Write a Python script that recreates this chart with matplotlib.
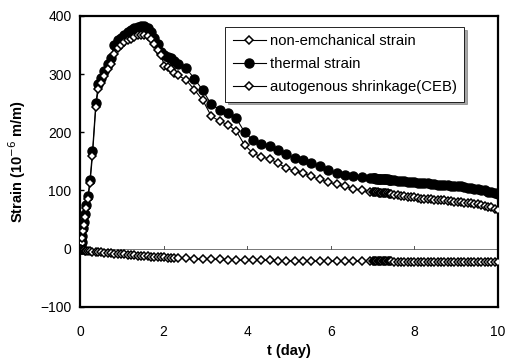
import matplotlib
matplotlib.use("Agg")
import matplotlib.pyplot as plt

plt.rcParams['font.family'] = ['Liberation Sans', 'DejaVu Sans']

# time (day)
t = [0.0, 0.02, 0.04, 0.06, 0.08, 0.1, 0.12, 0.15, 0.19, 0.24, 0.3, 0.38, 0.44, 0.5,
     0.58, 0.66, 0.74, 0.82, 0.9, 0.98, 1.06, 1.14, 1.22, 1.3, 1.38, 1.46, 1.54, 1.62,
     1.7, 1.78, 1.86, 1.94, 2.02, 2.1, 2.18, 2.26, 2.34,
     2.54, 2.74, 2.94, 3.14, 3.34, 3.54, 3.74, 3.94, 4.14, 4.34, 4.54, 4.74, 4.94,
     5.14, 5.34, 5.54, 5.74, 5.94, 6.14, 6.34, 6.54, 6.74, 6.94,
     7.0, 7.03, 7.06, 7.09, 7.12, 7.15, 7.18, 7.21, 7.24, 7.27, 7.3, 7.33, 7.36, 7.39, 7.42, 7.45,
     7.52, 7.6, 7.68, 7.76, 7.84, 7.92, 8.0, 8.08, 8.16, 8.24, 8.32, 8.4, 8.48, 8.56,
     8.64, 8.72, 8.8, 8.88, 8.96, 9.04, 9.12, 9.2, 9.28, 9.36, 9.44, 9.52, 9.6, 9.68,
     9.76, 9.84, 9.92, 10.0]

thermal = [0, 5, 12, 22, 35, 45, 60, 75, 90, 118, 167, 250, 283, 294,
           305, 318, 328, 350, 358, 362, 368, 372, 375, 379, 381, 382, 382, 380,
           373, 362, 352, 338, 332, 330, 328, 322, 318,
           310, 292, 272, 248, 239, 233, 224, 200, 186, 180, 176, 170, 162,
           156, 152, 147, 142, 135, 130, 127, 125, 123, 121,
           121, 121, 121, 120, 120, 120, 120, 120, 119, 119, 119, 119, 119, 118, 118, 118,
           118, 117, 116, 116, 115, 114, 114, 113, 113, 112, 112, 111, 111, 110,
           110, 109, 109, 108, 108, 107, 107, 106, 105, 104, 103, 102, 101, 100,
           98, 97, 96, 94]

nonmech = [0, 3, 10, 18, 30, 40, 55, 70, 85, 112, 160, 243, 275, 285,
           296, 308, 318, 335, 345, 350, 355, 358, 361, 364, 367, 368, 368, 366,
           360, 352, 342, 332, 314, 312, 308, 302, 298,
           290, 273, 255, 228, 219, 213, 202, 178, 164, 158, 154, 147, 138,
           133, 130, 124, 119, 114, 111, 107, 103, 100, 98,
           98, 98, 97, 97, 97, 96, 96, 96, 96, 95, 95, 95, 95, 94, 94, 94,
           93, 92, 91, 90, 89, 88, 88, 87, 86, 86, 85, 85, 84, 84,
           83, 83, 82, 82, 81, 80, 80, 79, 78, 78, 77, 76, 75, 74,
           72, 71, 69, 67]

autog = [0, -1, -1.5, -2, -2.5, -3, -3.3, -3.7, -4, -4.5, -5, -5.5, -6, -6.5,
         -7, -7.5, -8, -8.5, -9, -9.5, -10, -10.5, -11, -11.5, -12, -12.5, -13, -13.3,
         -13.6, -14, -14.3, -14.6, -15, -15.3, -15.6, -15.9, -16.2,
         -16.8, -17.3, -17.8, -18.2, -18.6, -19, -19.3, -19.6, -19.9, -20.1, -20.3, -20.5, -20.7,
         -20.9, -21, -21.2, -21.3, -21.4, -21.5, -21.6, -21.7, -21.8, -21.9,
         -22, -22, -22, -22, -22, -22, -22, -22, -22, -22, -22, -22, -22, -22, -22, -22,
         -22.1, -22.1, -22.2, -22.2, -22.2, -22.3, -22.3, -22.3, -22.4, -22.4, -22.4, -22.5, -22.5, -22.5,
         -22.6, -22.6, -22.6, -22.7, -22.7, -22.7, -22.8, -22.8, -22.8, -22.9, -22.9, -22.9, -23, -23,
         -23, -23, -23, -23]

labels = ["non-emchanical strain", "thermal strain", "autogenous shrinkage(CEB)"]
xticks = [0, 2, 4, 6, 8, 10]
yticks = [-100, 0, 100, 200, 300, 400]

fig = plt.figure(figsize=(5.06, 3.61), dpi=100)
ax = fig.add_axes([0.158, 0.150, 0.826, 0.806])

# zero reference line with small ticks
ax.axhline(0, color='#777777', lw=0.7, zorder=1)
for xv in xticks[1:-1]:
    ax.plot([xv, xv], [0, 4], color='#555555', lw=0.7, zorder=1)

ax.plot(t, nonmech, color='black', lw=0.8, marker='D', ms=4.2, mfc='white',
        mec='black', mew=1.1, zorder=3, label=labels[0])
ax.plot(t, thermal, color='black', lw=0.8, marker='o', ms=6.5, mfc='black',
        mec='black', zorder=2, label=labels[1])
ax.plot(t, autog, color='black', lw=0.8, marker='D', ms=4.2, mfc='white',
        mec='black', mew=1.1, zorder=3, label=labels[2])

ax.set_xlim(0, 10)
ax.set_ylim(-100, 400)
ax.set_xticks(xticks)
ax.set_yticks(yticks)
ax.tick_params(direction='in', length=3, width=1, labelsize=10)
ax.tick_params(axis='x', length=0, pad=13)
ax.tick_params(axis='y', pad=6)
for s in ax.spines.values():
    s.set_linewidth(1.6)

ax.set_xlabel("t (day)", fontsize=10.5, fontweight='bold', labelpad=4)
ax.set_ylabel("Strain (10$^{-6}$ m/m)", fontsize=10.5, fontweight='bold', labelpad=9)

leg = ax.legend(loc='upper left', bbox_to_anchor=(0.348, 0.962), borderaxespad=0,
                fontsize=10.7, frameon=True, fancybox=False, shadow=True, edgecolor='black',
                handlelength=2.2, labelspacing=0.6, borderpad=0.5, handletextpad=0.3)
leg.get_frame().set_linewidth(0.6)

fig.savefig("out.png", dpi=100)
